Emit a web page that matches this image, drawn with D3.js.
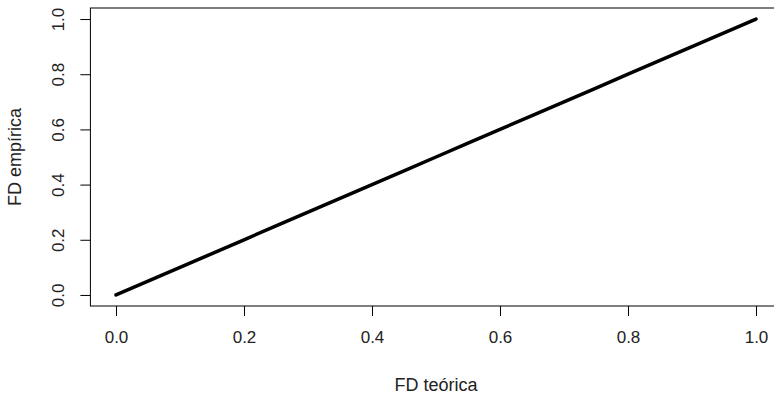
<!DOCTYPE html>
<html>
<head>
<meta charset="utf-8">
<script src="https://cdn.jsdelivr.net/npm/d3@7"></script>
<style>
  html, body { margin: 0; padding: 0; background: #fff; }
  svg { display: block; }
  text { font-family: "Liberation Sans", Arial, sans-serif; fill: #222; }
</style>
</head>
<body>
<svg id="chart" width="774" height="397"></svg>
<script>
// Theoretical vs empirical distribution function (P-P plot)
const fdTeorica  = [0.00, 0.05, 0.10, 0.15, 0.20, 0.25, 0.30, 0.35, 0.40, 0.45, 0.50,
                    0.55, 0.60, 0.65, 0.70, 0.75, 0.80, 0.85, 0.90, 0.95, 1.00];
const fdEmpirica = [0.00, 0.05, 0.10, 0.15, 0.20, 0.25, 0.30, 0.35, 0.40, 0.45, 0.50,
                    0.55, 0.60, 0.65, 0.70, 0.75, 0.80, 0.85, 0.90, 0.95, 1.00];
const xTicks = [0.0, 0.2, 0.4, 0.6, 0.8, 1.0];
const yTicks = [0.0, 0.2, 0.4, 0.6, 0.8, 1.0];
const xTitle = "FD teórica";
const yTitle = "FD empírica";

const svg = d3.select("#chart");
const tickFont = 17;
const titleFont = 18;

// Plot region with 4% padding on each side of [0, 1]
const x = d3.scaleLinear().domain([-0.04, 1.04]).range([90.4, 781.6]);
const y = d3.scaleLinear().domain([-0.04, 1.04]).range([306, 8]);

// Frame
svg.append("rect")
  .attr("x", x(-0.04)).attr("y", y(1.04))
  .attr("width", x(1.04) - x(-0.04)).attr("height", y(-0.04) - y(1.04))
  .attr("fill", "none").attr("stroke", "#000").attr("stroke-width", 1);

// X axis
const xAxis = d3.axisBottom(x).tickValues(xTicks).tickFormat(d3.format(".1f"))
  .tickSize(10).tickPadding(15);
const gx = svg.append("g").attr("transform", `translate(0,${y(-0.04)})`).call(xAxis);
gx.select(".domain").remove();
gx.selectAll("line").attr("stroke", "#000");
gx.selectAll("text").attr("font-size", tickFont).attr("fill", "#222")
  .attr("font-family", "Liberation Sans, Arial, sans-serif");

// Y axis with rotated labels
const yAxis = d3.axisLeft(y).tickValues(yTicks).tickFormat(d3.format(".1f"))
  .tickSize(10).tickPadding(0);
const gy = svg.append("g").attr("transform", `translate(${x(-0.04)},0)`).call(yAxis);
gy.select(".domain").remove();
gy.selectAll("line").attr("stroke", "#000");
gy.selectAll("text")
  .attr("font-size", tickFont).attr("fill", "#222")
  .attr("font-family", "Liberation Sans, Arial, sans-serif")
  .attr("x", null)
  .attr("text-anchor", "middle")
  .attr("transform", "translate(-32,0) rotate(-90)")
  .attr("dy", "0.35em");

// Axis titles
svg.append("text")
  .attr("x", (x(-0.04) + x(1.04)) / 2).attr("y", 391)
  .attr("text-anchor", "middle").attr("font-size", titleFont)
  .text(xTitle);
svg.append("text")
  .attr("transform", `translate(21,${(y(-0.04) + y(1.04)) / 2}) rotate(-90)`)
  .attr("text-anchor", "middle").attr("font-size", titleFont)
  .text(yTitle);

// Data line
const line = d3.line().x(d => x(d[0])).y(d => y(d[1]));
svg.append("path")
  .datum(d3.zip(fdTeorica, fdEmpirica))
  .attr("d", line)
  .attr("fill", "none").attr("stroke", "#000")
  .attr("stroke-width", 3.5)
  .attr("stroke-linecap", "round").attr("stroke-linejoin", "round");
</script>
</body>
</html>
